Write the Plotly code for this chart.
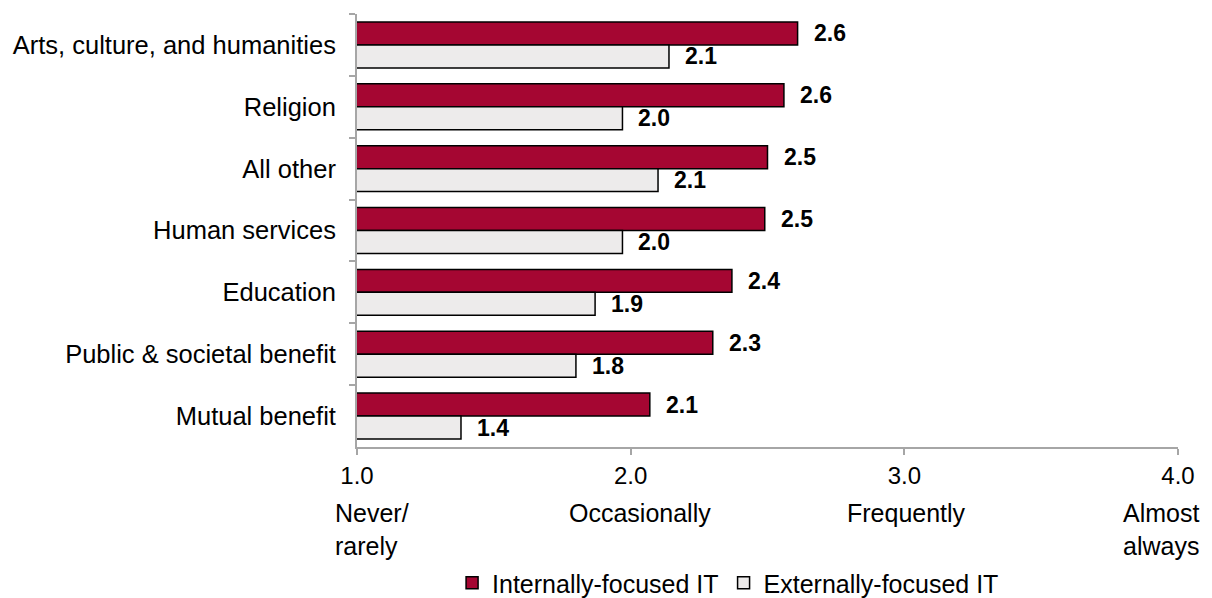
import plotly.graph_objects as go

categories = ["Arts, culture, and humanities", "Religion", "All other", "Human services",
              "Education", "Public & societal benefit", "Mutual benefit"]
internal_vals = [2.61, 2.56, 2.50, 2.49, 2.37, 2.30, 2.07]
external_vals = [2.14, 1.97, 2.10, 1.97, 1.87, 1.80, 1.38]
series_names = ["Internally-focused IT", "Externally-focused IT"]
tick_vals = [1, 2, 3, 4]
tick_text = ["1.0", "2.0", "3.0", "4.0"]
scale_labels = ["Never/<br>rarely", "Occasionally", "Frequently", "Almost<br>always"]

RED = "#A50632"
GREY = "#EDEBEB"
AXIS = "#A6A6A6"
FONT = "Liberation Sans, Arial, sans-serif"

fig = go.Figure()
fig.add_trace(go.Bar(y=categories, x=internal_vals, orientation="h", name=series_names[0],
                     marker=dict(color=RED, line=dict(color="black", width=1.5))))
fig.add_trace(go.Bar(y=categories, x=external_vals, orientation="h", name=series_names[1],
                     marker=dict(color=GREY, line=dict(color="black", width=1.5))))

annotations = []
for vals, ys in ((internal_vals, 11.5), (external_vals, -11.5)):
    for c, v in zip(categories, vals):
        annotations.append(dict(x=v, y=c, xref="x", yref="y", text=f"<b>{v:.1f}</b>",
                                showarrow=False, xanchor="left", yanchor="middle",
                                xshift=14, yshift=ys,
                                font=dict(family=FONT, size=23, color="black")))

shifts = [(-24, "left"), (9, "center"), (2, "center"), (-17, "center")]
for tv, lab, (xs, anc) in zip(tick_vals, scale_labels, shifts):
    annotations.append(dict(x=tv, y=0, xref="x", yref="paper", text=lab, showarrow=False,
                            xanchor=anc, yanchor="top", xshift=xs, yshift=-50,
                            align=anc if anc != "center" else "center",
                            font=dict(family=FONT, size=25, color="black")))

fig.update_layout(
    width=1212, height=598,
    margin=dict(l=356.7, r=34.3, t=13.5, b=151),
    paper_bgcolor="white", plot_bgcolor="white",
    barmode="group", bargap=0.257, bargroupgap=0,
    font=dict(family=FONT, size=25, color="black"),
    showlegend=True,
    legend=dict(orientation="h", xref="container", yref="container",
                x=0.373, xanchor="left", y=0.025, yanchor="middle",
                font=dict(family=FONT, size=25, color="black"),
                traceorder="normal", itemwidth=30),
    annotations=annotations,
)
fig.update_xaxes(range=[1, 4], tickvals=tick_vals, ticktext=tick_text,
                 showgrid=False, zeroline=False, showline=True, linecolor=AXIS, linewidth=2,
                 ticks="outside", ticklen=6, tickcolor=AXIS, tickwidth=2,
                 tickfont=dict(family=FONT, size=24, color="black"))
fig.update_yaxes(autorange="reversed", showgrid=False, zeroline=False, showline=True,
                 linecolor=AXIS, linewidth=2, ticks="outside", ticklen=6, tickcolor=AXIS,
                 tickwidth=2, tickson="boundaries", ticklabelstandoff=14,
                 tickfont=dict(family=FONT, size=25.5, color="black"))

fig.write_html("out.html", config={"displayModeBar": False},
               post_script="document.body.style.margin='0';document.body.style.padding='0';"
                           "document.body.style.overflow='hidden';")
